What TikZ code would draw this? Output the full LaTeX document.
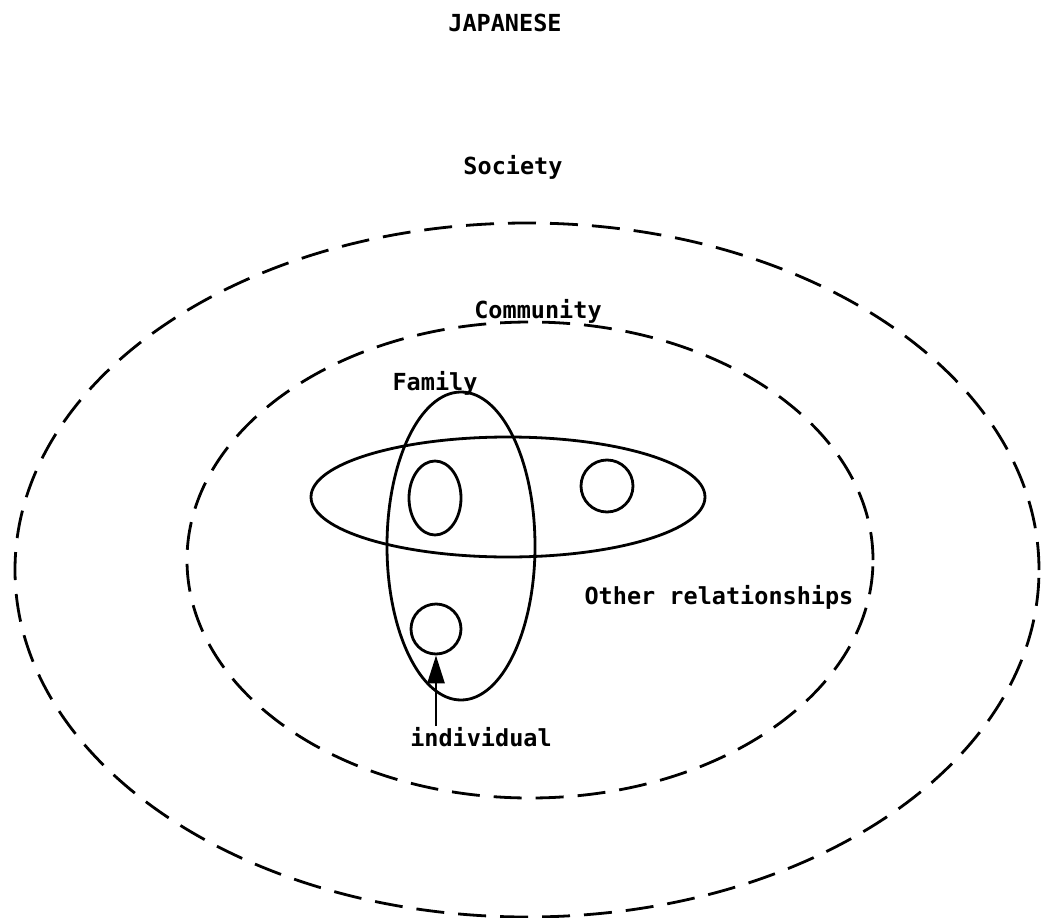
\documentclass[tikz,border=0pt]{standalone}
\usepackage{fontspec}
\setmainfont{DejaVu Sans Mono}
\usetikzlibrary{shapes.geometric,arrows.meta}
\begin{document}
\begin{tikzpicture}[x=1pt,y=-1pt,
  ell/.style={draw,ellipse,inner sep=0pt,line width=2.8pt},
  dashell/.style={ell,dash pattern=on 28pt off 14pt},
  lbl/.style={font=\fontsize{23.5}{26}\selectfont\bfseries,inner sep=0pt}]
\useasboundingbox[fill=white] (0,0) rectangle (1042,918);
% outer and inner dashed ellipses
\node[dashell,minimum width=1024pt,minimum height=694pt] (society) at (527,570) {};
\node[dashell,minimum width=686pt,minimum height=476pt] (community) at (530,560) {};
% relationships ellipse and family ellipse
\node[ell,minimum width=394pt,minimum height=120pt] (other) at (508,497) {};
\node[ell,minimum width=148pt,minimum height=308pt] (family) at (461,546) {};
% small circles
\node[ell,minimum width=52pt,minimum height=74pt] (c1) at (435,498) {};
\node[ell,minimum width=52pt,minimum height=52pt] (c2) at (607,486) {};
\node[ell,minimum width=50pt,minimum height=50pt] (ind) at (436,629) {};
% labels
\node[lbl] (tjap) at (505,23) {JAPANESE};
\node[lbl] (tsoc) at (513,167) {Society};
\node[lbl] (tcom) at (538,311) {Community};
\node[lbl] (tfam) at (435,383) {Family};
\node[lbl] (toth) at (719,597) {Other relationships};
\node[lbl] (tind) at (481,737) {individual};
% arrow
\coordinate (astart) at (436,726);
\draw[line width=2.8pt,-{Triangle[length=28pt,width=17pt]}] (astart) -- (ind.south);
\end{tikzpicture}
\end{document}
